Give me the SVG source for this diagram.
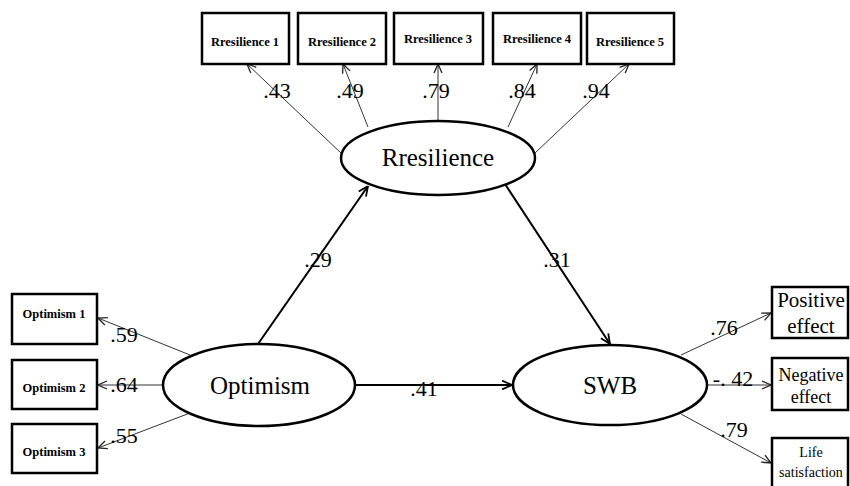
<svg xmlns="http://www.w3.org/2000/svg" width="850" height="486" viewBox="0 0 850 486">
<defs>
<marker id="ah" viewBox="0 0 10 10" refX="10" refY="5" markerWidth="10" markerHeight="10" markerUnits="userSpaceOnUse" orient="auto">
<path d="M1,1 L10,5 L1,9" fill="none" stroke="#222" stroke-width="1.3"/>
</marker>
<marker id="ahb" viewBox="0 0 10 10" refX="10" refY="5" markerWidth="11" markerHeight="11" markerUnits="userSpaceOnUse" orient="auto">
<path d="M1,1 L10,5 L1,9" fill="none" stroke="#000" stroke-width="1.6"/>
</marker>
</defs>
<style>
.box{fill:#fff;stroke:#000;stroke-width:2.5}
.ell{fill:#fff;stroke:#000;stroke-width:2.5}
.thin{stroke:#333;stroke-width:1;fill:none;marker-end:url(#ah)}
.bold{stroke:#000;stroke-width:2;fill:none;marker-end:url(#ahb)}
text{font-family:'Liberation Serif','Times New Roman','DejaVu Serif',serif;text-anchor:middle;fill:#000}
.bt{font-weight:bold;font-size:12.5px}
.lat{font-size:25px}
.coef{font-size:22px}
</style>
<rect width="850" height="486" fill="#fff"/>
<g id="connectors">
<line class="thin" x1="341" y1="153" x2="247" y2="64"/>
<line class="thin" x1="368" y1="127" x2="343" y2="64"/>
<line class="thin" x1="438" y1="121" x2="438" y2="64"/>
<line class="thin" x1="508" y1="127" x2="537" y2="64"/>
<line class="thin" x1="535" y1="153" x2="629" y2="64"/>
<line class="thin" x1="190" y1="355" x2="98" y2="318"/>
<line class="thin" x1="163" y1="385" x2="98" y2="385"/>
<line class="thin" x1="190" y1="413" x2="98" y2="448"/>
<line class="thin" x1="681" y1="355" x2="771" y2="313"/>
<line class="thin" x1="707" y1="385" x2="771" y2="385"/>
<line class="thin" x1="681" y1="414" x2="771" y2="463"/>
<line class="bold" x1="258" y1="344" x2="368" y2="186"/>
<line class="bold" x1="505" y1="184" x2="610" y2="344"/>
<line class="bold" x1="355" y1="385" x2="512" y2="385"/>
</g>
<g id="labels">
<text class="coef" x="277" y="98">.43</text>
<text class="coef" x="350" y="98">.49</text>
<text class="coef" x="436" y="98">.79</text>
<text class="coef" x="522" y="98">.84</text>
<text class="coef" x="596" y="98">.94</text>
<text class="coef" x="124" y="342">.59</text>
<text class="coef" x="124" y="392">.64</text>
<text class="coef" x="124" y="443">.55</text>
<text class="coef" x="318" y="267">.29</text>
<text class="coef" x="557" y="267">.31</text>
<text class="coef" x="424" y="396">.41</text>
<text class="coef" x="724" y="335">.76</text>
<text class="coef" x="733" y="386">-. 42</text>
<text class="coef" x="734" y="437">.79</text>
</g>
<g id="res1"><rect class="box" x="202" y="13" width="87" height="51"/><text class="bt" x="245" y="46">Rresilience 1</text></g>
<g id="res2"><rect class="box" x="298" y="13" width="88" height="51"/><text class="bt" x="342" y="46">Rresilience 2</text></g>
<g id="res3"><rect class="box" x="394" y="13" width="89" height="51"/><text class="bt" x="438" y="43">Rresilience 3</text></g>
<g id="res4"><rect class="box" x="493" y="13" width="88" height="51"/><text class="bt" x="537" y="43">Rresilience 4</text></g>
<g id="res5"><rect class="box" x="587" y="13" width="87" height="51"/><text class="bt" x="630" y="46">Rresilience 5</text></g>
<g id="opt1"><rect class="box" x="12" y="294" width="85" height="50"/><text class="bt" x="54" y="318">Optimism 1</text></g>
<g id="opt2"><rect class="box" x="12" y="360" width="85" height="49"/><text class="bt" x="54" y="392">Optimism 2</text></g>
<g id="opt3"><rect class="box" x="12" y="424" width="85" height="49"/><text class="bt" x="54" y="456">Optimism 3</text></g>
<g id="resilience"><ellipse class="ell" cx="438" cy="158" rx="97" ry="37"/><text class="lat" x="438" y="166">Rresilience</text></g>
<g id="optimism"><ellipse class="ell" cx="259" cy="385" rx="96" ry="41"/><text class="lat" x="260" y="394">Optimism</text></g>
<g id="swb"><ellipse class="ell" cx="610" cy="385" rx="97" ry="40"/><text class="lat" x="610" y="394">SWB</text></g>
<g id="positive"><rect class="box" x="772" y="287" width="76" height="51"/><text x="811" y="307" font-size="21">Positive</text><text x="811" y="333" font-size="21">effect</text></g>
<g id="negative"><rect class="box" x="772" y="358" width="76" height="52"/><text x="811" y="381" font-size="18">Negative</text><text x="811" y="403" font-size="18">effect</text></g>
<g id="life"><rect class="box" x="772" y="438" width="76" height="52"/><text x="811" y="457" font-size="14">Life</text><text x="811" y="477" font-size="14">satisfaction</text></g>
</svg>
